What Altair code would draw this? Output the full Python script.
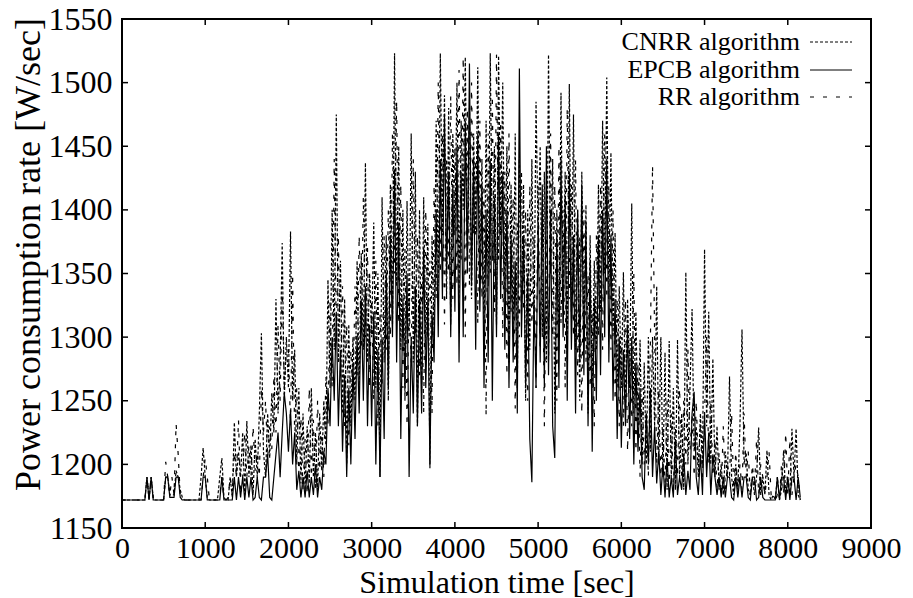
import altair as alt
import pandas as pd

# sampling: one reading every 25 s starting at 0 s
T_START = 0
T_STEP = 25

cnrr = [
    # 0-975
    1172,1172,1172,1172,1172,1172,1172,1172,1172,1172,1172,1172,1190,1172,1190,1174,1172,1172,1172,1172,
    1172,1190,1190,1176,1176,1176,1195,1190,1180,1174,1172,1172,1172,1172,1172,1172,1172,1172,1190,1213,
    # 1000-1975
    1190,1174,1172,1172,1172,1172,1174,1190,1205,1174,1172,1172,1190,1174,1233,1190,1210,1190,1225,1176,
    1234,1190,1215,1176,1220,1190,1240,1303,1210,1190,1240,1205,1256,1225,1330,1240,1280,1374,1250,1300,
    # 2000-2975
    1260,1383,1250,1290,1200,1260,1185,1240,1180,1230,1185,1260,1190,1225,1180,1240,1195,1250,1215,1345,
    1260,1400,1290,1475,1280,1360,1240,1330,1200,1310,1230,1300,1250,1360,1260,1366,1290,1437,1280,1350,
    # 3000-3975
    1300,1390,1260,1350,1190,1410,1280,1380,1250,1420,1310,1523,1340,1450,1290,1400,1250,1407,1300,1460,
    1280,1430,1230,1400,1260,1410,1290,1389,1197,1380,1300,1470,1340,1523,1380,1490,1330,1480,1310,1460,
    # 4000-4975
    1380,1500,1330,1470,1400,1520,1360,1480,1330,1460,1380,1512,1350,1440,1300,1470,1340,1523,1360,1450,
    1310,1521,1380,1500,1330,1450,1280,1420,1300,1460,1260,1440,1320,1420,1250,1400,1290,1440,1300,1485,
    # 5000-5975
    1380,1450,1300,1430,1280,1522,1350,1440,1240,1400,1300,1492,1330,1430,1280,1499,1320,1475,1290,1400,
    1250,1430,1300,1404,1240,1380,1260,1360,1290,1420,1320,1470,1350,1504,1330,1445,1300,1382,1260,1340,
    # 6000-6975
    1260,1351,1240,1330,1260,1405,1240,1320,1220,1298,1200,1280,1200,1300,1210,1300,1230,1340,1200,1300,
    1190,1288,1180,1297,1190,1260,1180,1298,1190,1240,1180,1351,1200,1260,1322,1210,1230,1190,1240,1200,
    # 7000-7975
    1369,1230,1320,1200,1283,1190,1230,1180,1200,1176,1210,1190,1269,1190,1176,1200,1180,1230,1306,1200,
    1209,1180,1176,1190,1176,1190,1229,1176,1190,1176,1211,1176,1172,1176,1172,1190,1172,1180,1211,1176,
    # 8000-8150
    1190,1176,1228,1190,1228,1176,1172,
]

epcb = [
    # 0-975
    1172,1172,1172,1172,1172,1172,1172,1172,1172,1172,1172,1172,1190,1172,1190,1172,1172,1172,1172,1172,
    1172,1190,1190,1174,1174,1174,1190,1190,1174,1172,1172,1172,1172,1172,1172,1172,1172,1172,1172,1190,
    # 1000-1975
    1190,1172,1172,1172,1172,1172,1172,1172,1190,1172,1172,1172,1172,1172,1190,1172,1190,1174,1190,1172,
    1190,1174,1190,1172,1174,1190,1174,1172,1190,1190,1208,1174,1172,1190,1208,1225,1190,1225,1256,1240,
    # 2000-2975
    1210,1243,1200,1225,1180,1195,1174,1190,1174,1195,1174,1190,1176,1200,1174,1190,1180,1210,1200,1260,
    1230,1300,1250,1320,1230,1290,1210,1270,1190,1260,1200,1280,1220,1300,1240,1330,1250,1340,1230,1310,
    # 3000-3975
    1230,1320,1200,1290,1190,1300,1220,1350,1260,1380,1300,1432,1280,1390,1220,1330,1260,1350,1190,1300,
    1240,1340,1230,1330,1240,1370,1260,1330,1200,1320,1280,1400,1300,1440,1330,1475,1350,1430,1300,1420,
    # 4000-4975
    1320,1450,1280,1430,1300,1470,1350,1515,1340,1440,1290,1460,1320,1420,1260,1400,1280,1440,1250,1410,
    1300,1460,1330,1430,1290,1400,1260,1380,1280,1360,1240,1511,1300,1380,1260,1350,1220,1186,1330,1260,
    # 5000-5975
    1390,1280,1420,1260,1450,1270,1400,1230,1205,1380,1260,1440,1300,1410,1250,1430,1290,1380,1240,1400,
    1280,1420,1270,1390,1230,1360,1210,1330,1250,1380,1270,1400,1300,1440,1280,1380,1250,1330,1220,1300,
    # 6000-6975
    1213,1290,1230,1310,1220,1300,1200,1280,1210,1260,1190,1180,1240,1200,1260,1190,1230,1185,1210,1176,
    1200,1174,1205,1174,1190,1174,1220,1176,1190,1180,1208,1176,1195,1180,1240,1257,1190,1176,1208,1176,
    # 7000-7975
    1240,1190,1225,1176,1208,1190,1176,1190,1174,1190,1174,1190,1190,1174,1172,1190,1174,1190,1174,1190,
    1190,1174,1172,1190,1190,1172,1174,1190,1174,1172,1172,1172,1172,1172,1172,1190,1172,1190,1190,1172,
    # 8000-8150
    1190,1172,1190,1190,1172,1190,1174,
]

rr = [
    # 0-975
    1172,1172,1172,1172,1172,1172,1172,1172,1172,1172,1172,1172,1190,1174,1190,1174,1172,1172,1172,1172,
    1172,1202,1190,1176,1190,1176,1232,1208,1176,1174,1172,1172,1172,1172,1172,1172,1172,1172,1172,1190,
    # 1000-1975
    1205,1190,1172,1172,1172,1172,1172,1176,1190,1172,1172,1174,1190,1176,1210,1190,1235,1176,1190,1225,
    1190,1215,1190,1230,1195,1210,1190,1260,1225,1250,1205,1230,1212,1270,1225,1310,1250,1340,1260,1290,
    # 2000-2975
    1290,1230,1350,1220,1260,1190,1237,1180,1220,1176,1260,1190,1235,1180,1250,1195,1230,1190,1270,1230,
    1330,1260,1440,1300,1380,1270,1340,1230,1310,1215,1290,1250,1340,1270,1380,1290,1410,1300,1370,1260,
    # 3000-3975
    1330,1250,1360,1230,1320,1260,1380,1290,1400,1300,1460,1350,1486,1310,1420,1260,1370,1230,1330,1280,
    1440,1300,1380,1270,1350,1240,1400,1300,1360,1240,1420,1330,1500,1350,1460,1310,1440,1350,1490,1330,
    # 4000-4975
    1450,1340,1510,1360,1520,1300,1480,1340,1500,1380,1440,1310,1470,1330,1420,1238,1460,1350,1490,1320,
    1522,1360,1470,1300,1430,1270,1460,1320,1410,1244,1390,1300,1430,1320,1400,1250,1420,1310,1380,1260,
    # 5000-5975
    1420,1290,1400,1230,1380,1280,1460,1300,1420,1250,1450,1310,1400,1260,1480,1330,1420,1300,1440,1270,
    1380,1240,1400,1280,1350,1260,1320,1230,1380,1300,1420,1290,1460,1330,1420,1290,1400,1250,1330,1230,
    # 6000-6975
    1300,1230,1330,1210,1290,1230,1350,1210,1280,1190,1260,1200,1240,1190,1300,1435,1300,1200,1260,1190,
    1230,1185,1250,1180,1240,1180,1230,1190,1260,1190,1250,1200,1290,1210,1240,1190,1250,1200,1230,1190,
    # 7000-7975
    1240,1300,1200,1250,1190,1220,1180,1210,1176,1230,1180,1200,1190,1240,1180,1210,1176,1200,1180,1240,
    1190,1210,1176,1200,1180,1220,1176,1200,1190,1176,1190,1210,1176,1172,1172,1176,1172,1200,1176,1225,
    # 8000-8150
    1176,1220,1176,1190,1200,1190,1172,
]

series_names = ["CNRR algorithm", "EPCB algorithm", "RR algorithm"]
x_tick_values = [0, 1000, 2000, 3000, 4000, 5000, 6000, 7000, 8000, 9000]
y_tick_values = [1150, 1200, 1250, 1300, 1350, 1400, 1450, 1500, 1550]
inner_x_ticks = [1000, 2000, 3000, 4000, 5000, 6000, 7000, 8000]
inner_y_ticks = [1200, 1250, 1300, 1350, 1400, 1450, 1500]

rows = []
for name, vals in zip(series_names, [cnrr, epcb, rr]):
    for i, v in enumerate(vals):
        rows.append({"time": T_START + i * T_STEP, "value": v, "series": name})
df = pd.DataFrame(rows)

FONT = "Liberation Serif"
W, H = 749, 509

xscale = alt.Scale(domain=[0, 9000], nice=False, zero=False)
yscale = alt.Scale(domain=[1150, 1550], nice=False, zero=False)

xaxis = alt.Axis(values=x_tick_values, ticks=False, domain=False, grid=False, format="d",
                 labelFont=FONT, labelFontSize=30, labelColor="black",
                 labelFlush=False, labelBaseline="alphabetic", labelPadding=29,
                 labelOverlap=False,
                 title="Simulation time [sec]", titleFont=FONT, titleFontSize=32,
                 titleFontWeight="normal", titleColor="black",
                 titleX=W / 2, titleY=64, titleAlign="center", titleBaseline="alphabetic")
yaxis = alt.Axis(values=y_tick_values, ticks=False, domain=False, grid=False, format="d",
                 labelFont=FONT, labelFontSize=32, labelColor="black",
                 labelFlush=False, labelPadding=10, labelOverlap=False,
                 title="Power consumption rate [W/sec]", titleFont=FONT, titleFontSize=36,
                 titleFontWeight="normal", titleColor="black",
                 titleX=-94, titleY=235, titleAlign="center", titleBaseline="middle", titleAngle=270)

dash_styles = {"CNRR algorithm": [3, 2], "EPCB algorithm": [1, 0], "RR algorithm": [4, 9]}

X = alt.X("time:Q", scale=xscale, axis=xaxis)
Y = alt.Y("value:Q", scale=yscale, axis=yaxis)

layers = []
for name in series_names:
    line = alt.Chart(df).transform_filter(alt.datum.series == name).mark_line(
        color="black", strokeWidth=1.2,
        strokeDash=dash_styles[name],
        interpolate="linear", clip=True,
    ).encode(x=X, y=Y)
    layers.append(line)

# inward ticks (gnuplot style) on all four sides
xt = pd.DataFrame({"time": inner_x_ticks})
yt = pd.DataFrame({"value": inner_y_ticks})
tick_len = 6
layers.append(alt.Chart(xt).mark_rule(color="black", strokeWidth=1.5).encode(
    x=X, y=alt.value(H), y2=alt.value(H - tick_len)))
layers.append(alt.Chart(xt).mark_rule(color="black", strokeWidth=1.5).encode(
    x=X, y=alt.value(0), y2=alt.value(tick_len)))
layers.append(alt.Chart(yt).mark_rule(color="black", strokeWidth=1.5).encode(
    y=Y, x=alt.value(0), x2=alt.value(tick_len)))
layers.append(alt.Chart(yt).mark_rule(color="black", strokeWidth=1.5).encode(
    y=Y, x=alt.value(W), x2=alt.value(W - tick_len)))

# legend (top right, inside the frame)
leg_rows_y = [23, 51, 78]
leg_text_x = 678
leg_line_x1, leg_line_x2 = 688, 730
leg_df = pd.DataFrame({"series": series_names})
for name, ly in zip(series_names, leg_rows_y):
    layers.append(alt.Chart(leg_df).transform_filter(alt.datum.series == name).mark_text(
        font=FONT, fontSize=26, align="right", baseline="middle", color="black").encode(
        text="series:N", x=alt.value(leg_text_x), y=alt.value(ly)))
    layers.append(alt.Chart(leg_df).transform_filter(alt.datum.series == name).mark_rule(
        color="black", strokeWidth=1, strokeDash=dash_styles[name]).encode(
        x=alt.value(leg_line_x1), x2=alt.value(leg_line_x2), y=alt.value(ly), y2=alt.value(ly)))

chart = alt.layer(*layers).properties(
    width=W, height=H,
    background="white",
    autosize=alt.AutoSizeParams(type="none"),
    padding={"left": 122, "top": 19, "right": 42, "bottom": 70},
).configure_view(stroke="black", strokeWidth=2)

chart.save("out.html", embed_options={"renderer": "svg", "actions": False})
